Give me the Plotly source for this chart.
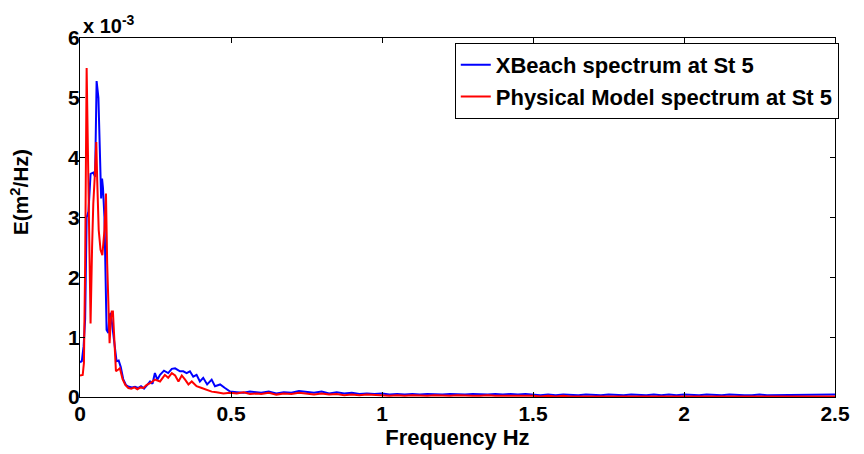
import numpy as np
import plotly.graph_objects as go

# spectral density values are in units of 1e-3 m^2/Hz
# low-frequency part, read point by point
f_xb = [0.000, 0.006, 0.012, 0.017, 0.022, 0.028, 0.035, 0.044, 0.050, 0.055,
        0.061, 0.066, 0.070, 0.073, 0.076, 0.081, 0.084, 0.088, 0.094, 0.097,
        0.102, 0.108, 0.114, 0.121, 0.128, 0.135, 0.143, 0.152, 0.162, 0.172,
        0.182, 0.192, 0.202, 0.212, 0.222, 0.232, 0.240, 0.248, 0.256, 0.265,
        0.278, 0.292, 0.304, 0.315, 0.331, 0.342, 0.353, 0.364, 0.375, 0.386,
        0.397, 0.408, 0.421, 0.436, 0.447, 0.464, 0.480, 0.497, 0.519, 0.541,
        0.563, 0.585]
e_xb = [0.58, 0.60, 0.85, 1.30, 3.00, 3.10, 3.73, 3.75, 3.68, 5.28,
        5.00, 4.20, 3.32, 3.65, 3.50, 3.00, 2.30, 1.12, 1.07, 1.37,
        1.40, 1.12, 0.84, 0.60, 0.61, 0.50, 0.30, 0.20, 0.17, 0.16,
        0.17, 0.15, 0.18, 0.14, 0.20, 0.26, 0.22, 0.40, 0.29, 0.37,
        0.44, 0.40, 0.47, 0.48, 0.43, 0.43, 0.40, 0.43, 0.34, 0.37,
        0.26, 0.32, 0.21, 0.29, 0.18, 0.21, 0.15, 0.09, 0.08, 0.07,
        0.09, 0.08]

f_pm = [0.000, 0.009, 0.013, 0.017, 0.022, 0.025, 0.030, 0.035, 0.040, 0.044,
        0.050, 0.054, 0.057, 0.062, 0.068, 0.074, 0.081, 0.086, 0.090, 0.096,
        0.098, 0.102, 0.105, 0.109, 0.114, 0.119, 0.127, 0.132, 0.141, 0.150,
        0.160, 0.170, 0.180, 0.190, 0.200, 0.210, 0.220, 0.232, 0.248, 0.265,
        0.281, 0.292, 0.304, 0.315, 0.326, 0.337, 0.348, 0.359, 0.370, 0.386,
        0.403, 0.419, 0.436, 0.452, 0.475, 0.497, 0.519, 0.541, 0.563, 0.585]
e_pm = [0.36, 0.37, 0.57, 2.20, 5.50, 4.46, 2.20, 1.23, 2.50, 3.23,
        3.79, 4.26, 3.62, 2.79, 2.46, 2.37, 2.79, 3.40, 2.23, 1.29,
        0.90, 1.29, 1.43, 1.43, 1.00, 0.43, 0.46, 0.48, 0.30, 0.20,
        0.15, 0.14, 0.16, 0.13, 0.16, 0.15, 0.20, 0.23, 0.29, 0.26,
        0.37, 0.32, 0.40, 0.36, 0.26, 0.36, 0.29, 0.21, 0.26, 0.18,
        0.15, 0.12, 0.09, 0.08, 0.06, 0.07, 0.06, 0.08, 0.05, 0.06]

# tail 0.6 .. 2.5 Hz, 0.025 Hz steps
f_tail = np.round(np.arange(0.6, 2.5001, 0.025), 3)
e_xb_tail = [0.07, 0.09, 0.06, 0.08, 0.07, 0.10, 0.08, 0.07, 0.09, 0.06, 0.08, 0.06, 0.07, 0.05, 0.06, 0.05,
             0.06, 0.04, 0.05, 0.04, 0.05, 0.04, 0.05, 0.04, 0.04, 0.05, 0.04, 0.04, 0.05, 0.04, 0.04, 0.05, 0.04, 0.05, 0.04, 0.05,
             0.04, 0.03, 0.04, 0.03, 0.04, 0.03, 0.03, 0.04, 0.03, 0.03, 0.04, 0.03, 0.03, 0.04, 0.03, 0.03, 0.04, 0.03, 0.04, 0.03,
             0.04, 0.03, 0.03, 0.04, 0.03, 0.03, 0.04, 0.03, 0.03, 0.03, 0.04, 0.03, 0.03, 0.04, 0.03, 0.03, 0.03, 0.04, 0.03, 0.03, 0.04]
e_pm_tail = [0.05, 0.07, 0.04, 0.06, 0.05, 0.07, 0.05, 0.04, 0.06, 0.04, 0.05, 0.03, 0.04, 0.03, 0.04, 0.03,
             0.03, 0.02, 0.03, 0.02, 0.03, 0.02, 0.02, 0.03, 0.02, 0.02, 0.03, 0.02, 0.02, 0.02, 0.03, 0.02, 0.02, 0.02, 0.03, 0.02,
             0.02, 0.01, 0.02, 0.01, 0.02, 0.01, 0.01, 0.02, 0.01, 0.01, 0.02, 0.01, 0.01, 0.01, 0.02, 0.01, 0.01, 0.02, 0.01, 0.01,
             0.01, 0.02, 0.01, 0.01, 0.01, 0.02, 0.01, 0.01, 0.01, 0.02, 0.01, 0.01, 0.01, 0.01, 0.02, 0.01, 0.01, 0.01, 0.02, 0.01, 0.01]

x_ticks = [0, 0.5, 1, 1.5, 2, 2.5]
y_ticks = [0, 1, 2, 3, 4, 5, 6]

FONT = "Liberation Sans, Arial, sans-serif"

fig = go.Figure()
fig.add_trace(go.Scatter(x=f_xb + list(f_tail), y=e_xb + e_xb_tail, mode="lines",
                         line=dict(color="#0000ff", width=2),
                         name="XBeach spectrum at St 5"))
fig.add_trace(go.Scatter(x=f_pm + list(f_tail), y=e_pm + e_pm_tail, mode="lines",
                         line=dict(color="#ff0000", width=2),
                         name="Physical Model spectrum at St 5"))

axis_common = dict(showline=True, linecolor="black", linewidth=1.3, mirror="allticks",
                   ticks="inside", ticklen=5, tickcolor="black", showgrid=False,
                   zeroline=False, automargin=False,
                   tickfont=dict(size=21, color="black", weight="bold"))

# page body has an 8px margin, so the figure is 8px smaller than the window
fig.update_layout(
    width=856, height=446,
    margin=dict(l=72, r=29, t=30, b=57),
    paper_bgcolor="white", plot_bgcolor="white",
    font=dict(family=FONT, color="black", weight="bold"),
    xaxis=dict(range=[0, 2.5], tickvals=x_ticks, ticktext=[str(t) for t in x_ticks],
               ticklabelstandoff=-2,
               title=dict(text="Frequency Hz", font=dict(size=22, weight="bold"), standoff=2),
               **axis_common),
    yaxis=dict(range=[0, 6], tickvals=y_ticks, ticktext=[str(t) for t in y_ticks],
               ticklabelstandoff=-5,
               **axis_common),
    legend=dict(x=1.005, y=0.986, xanchor="right", yanchor="top",
                bordercolor="black", borderwidth=1, bgcolor="white",
                itemwidth=30,
                font=dict(size=22, weight="bold"), tracegroupgap=0),
    showlegend=True,
)

# y-axis title, sitting a little above the middle as in the original
fig.add_annotation(text="E(m<sup>2</sup>/Hz)", xref="paper", yref="paper", x=0, y=0.57,
                   xanchor="center", yanchor="middle", textangle=-90, showarrow=False,
                   xshift=-60, font=dict(size=21, weight="bold"))

fig.add_annotation(text="x 10<sup>-3</sup>", xref="paper", yref="paper", x=0.001, y=1,
                   xanchor="left", yanchor="bottom", showarrow=False,
                   font=dict(size=20, weight="bold"), yshift=-1)

fig.write_html("out.html")
